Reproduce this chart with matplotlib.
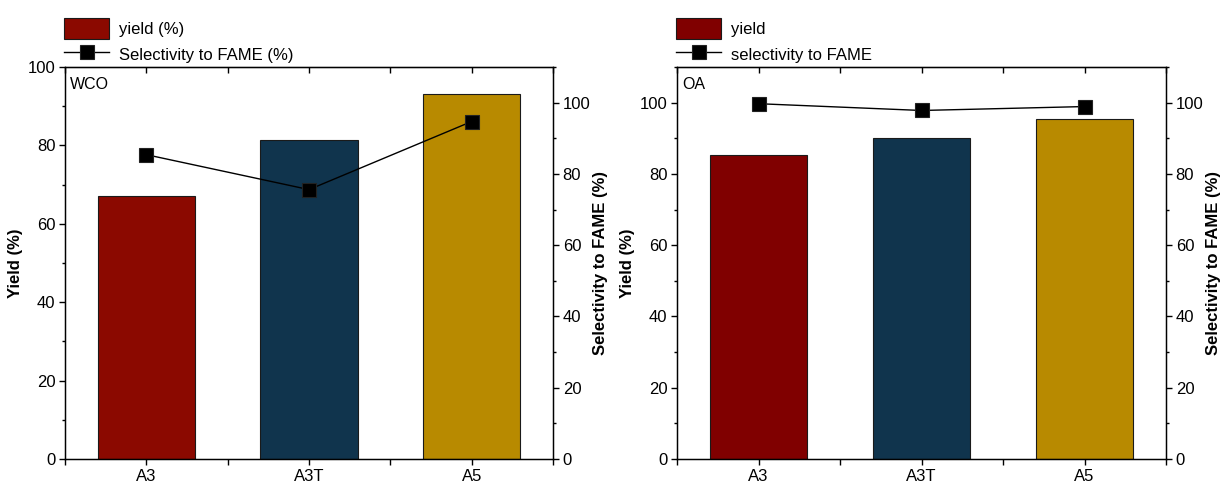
import matplotlib
matplotlib.use("Agg")
import matplotlib.pyplot as plt
from matplotlib.ticker import MultipleLocator, FixedLocator
from matplotlib.lines import Line2D
from matplotlib.patches import Patch

plt.rcParams['font.family'] = ['Liberation Sans', 'DejaVu Sans']

categories = ["A3", "A3T", "A5"]
wco_yield = [67.1, 81.5, 93.1]
wco_selectivity = [85.4, 75.6, 94.7]
oa_yield = [85.2, 90.1, 95.5]
oa_selectivity = [99.7, 97.8, 98.9]

wco_colors = ["#8B0900", "#10344D", "#B88A00"]
oa_colors = ["#800000", "#10344D", "#B88A00"]

fig = plt.figure(figsize=(12.21, 4.88), dpi=100)

FS = 12
LFS = 12


def panel(rect, yields, sel, colors, ylim_left, tag, leg_labels):
    ax = fig.add_axes(rect)
    x = list(range(len(categories)))
    ax.bar(x, yields, width=0.6, color=colors, edgecolor="#1a1a1a", linewidth=0.8, zorder=2)
    ax.set_xlim(-0.5, 2.5)
    ax.set_ylim(*ylim_left)
    ax.set_xticks(x)
    ax.set_xticklabels(categories, fontsize=FS)
    ax.xaxis.set_minor_locator(FixedLocator([-0.5, 0.5, 1.5, 2.5]))
    ax.yaxis.set_major_locator(MultipleLocator(20))
    ax.yaxis.set_minor_locator(MultipleLocator(10))
    ax.tick_params(axis='x', which='both', direction='out', length=4.5, width=1, bottom=True, top=False, pad=2.5)
    ax.tick_params(axis='y', which='major', direction='out', length=4.5, width=1, labelsize=FS, pad=2.5)
    ax.tick_params(axis='y', which='minor', direction='out', length=2.5, width=1)
    ax.set_ylabel("Yield (%)", fontsize=LFS, fontweight='bold', labelpad=3)
    for s in ax.spines.values():
        s.set_linewidth(1)

    top = ax.secondary_xaxis('top')
    top.set_xticks(x)
    top.set_xticklabels([])
    top.xaxis.set_minor_locator(FixedLocator([-0.5, 0.5, 1.5, 2.5]))
    top.tick_params(axis='x', which='both', direction='in', length=4.5, width=1)

    ax2 = ax.twinx()
    ax2.set_ylim(0, 110)
    ax2.yaxis.set_major_locator(MultipleLocator(20))
    ax2.yaxis.set_minor_locator(MultipleLocator(10))
    ax2.tick_params(axis='y', which='major', direction='out', length=4.5, width=1, labelsize=FS, pad=2.5)
    ax2.tick_params(axis='y', which='minor', direction='out', length=2.5, width=1)
    ax2.set_ylabel("Selectivity to FAME (%)", fontsize=LFS, fontweight='bold', labelpad=2)
    ax2.plot(x, sel, color='black', linewidth=1, marker='s', markersize=10,
             markerfacecolor='black', markeredgecolor='#222222', markeredgewidth=0.8, zorder=3)

    ax.text(0.01, 0.955, tag, transform=ax.transAxes, fontsize=11.5, ha='left', va='center')

    handles = [Patch(facecolor=colors[0], edgecolor="#1a1a1a", linewidth=0.8),
               Line2D([0], [0], color='black', linewidth=1, marker='s', markersize=10,
                      markerfacecolor='black', markeredgecolor='#222222', markeredgewidth=0.8)]
    ax.legend(handles, leg_labels, loc='lower left', bbox_to_anchor=(-0.005, 1.0),
              frameon=False, fontsize=FS, handlelength=2.7, handleheight=1.6,
              handletextpad=0.6, labelspacing=0.27, borderaxespad=0, borderpad=0.1)
    return ax, ax2


panel([65 / 1221, 1 - 459 / 488, 488 / 1221, 392 / 488], wco_yield, wco_selectivity,
      wco_colors, (0, 100), "WCO", ["yield (%)", "Selectivity to FAME (%)"])
panel([677 / 1221, 1 - 459 / 488, 489 / 1221, 392 / 488], oa_yield, oa_selectivity,
      oa_colors, (0, 110), "OA", ["yield", "selectivity to FAME"])

fig.savefig("out.png", dpi=100)
